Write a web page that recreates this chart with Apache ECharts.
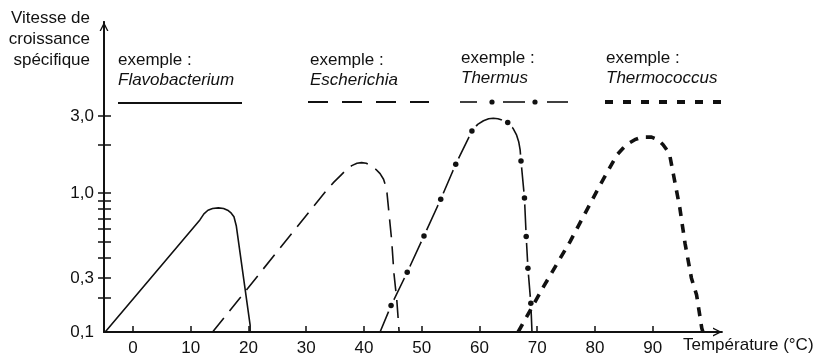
<!DOCTYPE html>
<html>
<head>
<meta charset="utf-8">
<script src="https://cdn.jsdelivr.net/npm/echarts@6/dist/echarts.min.js"></script>
<style>
  html, body { margin: 0; padding: 0; background: #fff; }
  #chart { width: 826px; height: 359px; }
</style>
</head>
<body>
<div id="chart"></div>
<script>
// Temperature axis (°C)
const tempMin = -5;
const tempMax = 102;
const tempTicks = [0, 10, 20, 30, 40, 50, 60, 70, 80, 90];

// Specific growth rate axis
const rateMin = 0.1;
const rateTop = 11.4;
const rateLabels = [0.1, 0.3, 1, 3];
const rateLabelText = ['0,1', '0,3', '1,0', '3,0'];
const rateTicks = [0.2, 0.3, 0.4, 0.5, 0.6, 0.7, 0.8, 0.9, 1, 2, 3];

// Growth curves: [temperature °C, specific growth rate]
const flavobacterium = [
  [-4.8, 0.1], [11.6, 0.684], [12.3, 0.745], [13.0, 0.785], [13.8, 0.805], [14.8, 0.812],
  [15.7, 0.805], [16.4, 0.785], [17.0, 0.755], [17.5, 0.715], [17.9, 0.63], [20.3, 0.115], [20.3, 0.1]
];
const escherichia = [
  [13.8, 0.1], [33.6, 1.05], [34.8, 1.17], [35.9, 1.28], [37.0, 1.40], [37.9, 1.48], [38.8, 1.53],
  [39.6, 1.545], [40.4, 1.53], [41.2, 1.48], [42.1, 1.40], [42.8, 1.32], [43.4, 1.22],
  [43.8, 1.10], [44.0, 1.0], [44.8, 0.515], [45.2, 0.32], [45.7, 0.19], [46.1, 0.1]
];
const thermusShape = [
  [42.8, 0.1], [59.7, 2.66], [60.7, 2.80], [61.6, 2.88], [62.4, 2.90], [63.2, 2.88],
  [63.9, 2.83], [65.8, 2.52], [66.4, 2.30], [66.8, 2.08], [67.05, 1.85], [69.1, 0.1]
];
const thermusDots = [
  [44.7, 0.171], [47.5, 0.325], [50.4, 0.545], [53.3, 0.918], [55.9, 1.51], [58.7, 2.42],
  [64.9, 2.73], [67.2, 1.58], [67.8, 0.935], [68.1, 0.54], [68.4, 0.344], [68.9, 0.179]
];
const thermococcus = [
  [66.7, 0.1], [71.1, 0.251], [75.7, 0.503], [80.9, 1.125], [83.8, 1.72], [84.9, 1.90],
  [85.8, 2.03], [86.9, 2.14], [88.1, 2.22], [89.8, 2.22], [90.9, 2.14], [91.8, 1.99],
  [92.5, 1.84], [93.0, 1.68], [93.6, 1.30], [94.7, 0.81], [95.6, 0.49], [96.7, 0.3],
  [97.6, 0.212], [98.5, 0.108], [98.7, 0.1]
];

// Legend captions
const legendItems = ['Flavobacterium', 'Escherichia', 'Thermus', 'Thermococcus'];

// Vertical scale: logarithmic from 0,3 upward, the 0,1–0,3 step drawn compressed.
const LOW_SQUEEZE = 0.7;
const L03 = Math.log10(0.3);
function rateToAxis(v) {
  const l = Math.log10(v);
  return l >= L03 ? l : L03 - (L03 - l) * LOW_SQUEEZE;
}
const toAxis = pts => pts.map(p => [p[0], rateToAxis(p[1])]);

const thermusLine = thermusShape.concat(thermusDots).sort((a, b) => a[0] - b[0]);

const INK = '#111';
const FONT = '"Liberation Sans", Arial, sans-serif';
const arrowPath = 'path://M0,10 L5,0 L10,10 L8.4,10 L5,3.2 L1.6,10 Z';

const yMin = rateToAxis(rateMin);
const yMax = rateToAxis(rateTop);

function rateLabel(val) {
  for (let i = 0; i < rateLabels.length; i++) {
    if (Math.abs(rateToAxis(rateLabels[i]) - val) < 1e-6) return rateLabelText[i];
  }
  return '';
}

const lineBase = {
  type: 'line', showSymbol: false, smooth: false,
  silent: true, xAxisIndex: 0, yAxisIndex: 0
};

const chart = echarts.init(document.getElementById('chart'), null, { renderer: 'canvas' });

const legendText = (x, y, txt, italic) => ({
  type: 'text', x: x, y: y, silent: true,
  style: { text: txt, fill: INK, font: (italic ? 'italic ' : '') + '17px ' + FONT, align: 'left', verticalAlign: 'middle' }
});
const hLine = (x1, x2, y, w, dash) => ({
  type: 'line', silent: true,
  shape: { x1: x1, y1: y, x2: x2, y2: y },
  style: { stroke: INK, lineWidth: w, lineDash: dash || null }
});
const dot = (cx, cy) => ({
  type: 'circle', silent: true, shape: { cx: cx, cy: cy, r: 2.6 }, style: { fill: INK }
});

chart.setOption({
  animation: false,
  backgroundColor: '#fff',
  grid: { left: 104, right: 104, top: 22, bottom: 27 },
  xAxis: {
    type: 'value', min: tempMin, max: tempMax,
    axisLine: {
      show: true, onZero: false, lineStyle: { color: INK, width: 1.8 },
      symbol: ['none', arrowPath], symbolSize: [10, 9], symbolOffset: [0, -4.5]
    },
    axisTick: { show: true, inside: true, length: 6, customValues: tempTicks, lineStyle: { color: INK, width: 1.5 } },
    axisLabel: { customValues: tempTicks, color: INK, fontSize: 17, fontFamily: FONT, margin: 8 },
    splitLine: { show: false }
  },
  yAxis: [
    {
      type: 'value', min: yMin, max: yMax, position: 'left', offset: 0,
      axisLine: {
        show: true, onZero: false, lineStyle: { color: INK, width: 1.8 },
        symbol: ['none', arrowPath], symbolSize: [10, 9], symbolOffset: [0, -4.5]
      },
      axisTick: { show: true, inside: false, length: 6, customValues: rateTicks.map(rateToAxis), lineStyle: { color: INK, width: 1.5 } },
      axisLabel: {
        customValues: rateLabels.map(rateToAxis), formatter: rateLabel,
        color: INK, fontSize: 17, fontFamily: FONT, margin: 10
      },
      splitLine: { show: false }
    },
    {
      // same scale, carries the inner half of each tick mark
      type: 'value', min: yMin, max: yMax, position: 'left', offset: 0,
      axisLine: { show: true, onZero: false, lineStyle: { color: INK, width: 1.8 } },
      axisTick: { show: true, inside: true, length: 7, customValues: rateTicks.map(rateToAxis), lineStyle: { color: INK, width: 1.5 } },
      axisLabel: { show: false },
      splitLine: { show: false }
    }
  ],
  series: [
    Object.assign({}, lineBase, {
      name: legendItems[0], data: toAxis(flavobacterium), z: 2,
      lineStyle: { color: INK, width: 1.6 }
    }),
    Object.assign({}, lineBase, {
      name: legendItems[2], data: toAxis(thermusLine), z: 2,
      lineStyle: { color: INK, width: 1.6 }
    }),
    {
      type: 'scatter', name: legendItems[2] + ' gap', silent: true, z: 3,
      data: toAxis(thermusDots), symbol: 'circle', symbolSize: 13,
      itemStyle: { color: '#fff', opacity: 1 }
    },
    {
      type: 'scatter', name: legendItems[2] + ' dots', silent: true, z: 4,
      data: toAxis(thermusDots), symbol: 'circle', symbolSize: 5.5,
      itemStyle: { color: INK, opacity: 1 }
    },
    Object.assign({}, lineBase, {
      name: legendItems[1], data: toAxis(escherichia), z: 5,
      lineStyle: { color: INK, width: 1.6, type: [18, 9] }
    }),
    Object.assign({}, lineBase, {
      name: legendItems[3], data: toAxis(thermococcus), z: 5,
      lineStyle: { color: INK, width: 3.6, type: [9, 8], cap: 'butt' }
    })
  ],
  graphic: [
    {
      type: 'text', x: 90, y: 39, silent: true,
      style: {
        text: 'Vitesse de\ncroissance\nspécifique', fill: INK, font: '17px ' + FONT,
        align: 'right', verticalAlign: 'middle', lineHeight: 21
      }
    },
    {
      type: 'text', x: 683, y: 345, silent: true,
      style: { text: 'Température (°C)', fill: INK, font: '17px ' + FONT, align: 'left', verticalAlign: 'middle' }
    },
    legendText(118, 60, 'exemple :', false),
    legendText(118, 80, legendItems[0], true),
    hLine(118, 242, 103, 1.8),
    legendText(310, 60, 'exemple :', false),
    legendText(310, 80, legendItems[1], true),
    hLine(308, 429, 102, 1.8, [20, 14]),
    legendText(461, 58, 'exemple :', false),
    legendText(461, 78, legendItems[2], true),
    hLine(460, 477, 102, 1.6),
    dot(492, 102),
    hLine(503, 525, 102, 1.6),
    dot(535, 102),
    hLine(547, 568, 102, 1.6),
    legendText(606, 58, 'exemple :', false),
    legendText(606, 78, legendItems[3], true),
    hLine(605, 727, 102, 4, [8, 10])
  ]
});
</script>
</body>
</html>
